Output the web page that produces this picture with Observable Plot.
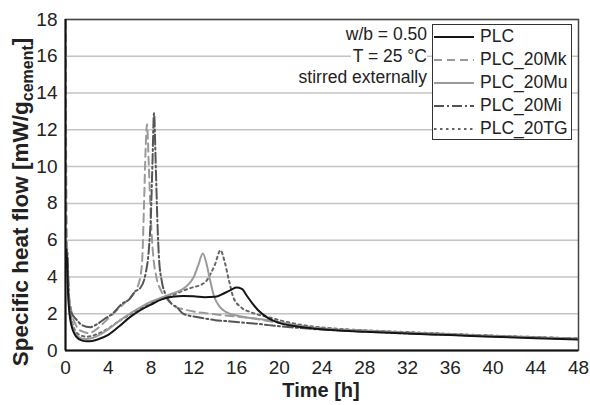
<!DOCTYPE html>
<html><head><meta charset="utf-8">
<script src="https://cdn.jsdelivr.net/npm/d3@7"></script>
<script src="https://cdn.jsdelivr.net/npm/@observablehq/plot@0.6"></script>
<style>
body{margin:0;background:#fff;font-family:"Liberation Sans",Arial,sans-serif;}
#wrap{position:relative;width:590px;height:405px;overflow:hidden;}
#notes{position:absolute;right:163px;top:24px;text-align:right;font-size:17.5px;line-height:21.5px;color:#222;}
#notes span{background:#fff;padding-left:2px;}
#legend{position:absolute;left:432px;top:24px;width:138px;height:114px;border:1px solid #333;background:#fff;font-size:17.5px;color:#222;}
#legend .row{height:23px;display:flex;align-items:center;}
#legend svg{margin-left:1px;margin-right:6px;flex:none;}
</style>
</head><body>
<div id="wrap"></div>
<script>
// ---- data ----
const seriesNames = ["PLC", "PLC_20Mk", "PLC_20Mu", "PLC_20Mi", "PLC_20TG"];
const notes = ["w/b = 0.50", "T = 25 °C", "stirred externally"];
const xTicks = [0,4,8,12,16,20,24,28,32,36,40,44,48];
const yTicks = [0,2,4,6,8,10,12,14,16,18];

const timePLC = [0,0.1,0.25,0.5,1,1.5,2,2.5,3,4,5,6,7,8,9,10,11,12,13,14,14.8,15.5,16,16.5,17,17.5,18,19,20,22,24,28,32,36,40,44,48];
const flowPLC = [4.5,5.5,3.0,1.5,0.75,0.55,0.5,0.52,0.6,0.85,1.3,1.8,2.2,2.5,2.78,2.92,2.96,2.95,2.9,2.92,3.1,3.3,3.42,3.35,2.95,2.55,2.2,1.75,1.5,1.28,1.15,1.02,0.92,0.84,0.75,0.67,0.6];

const timeMk = [0,0.05,0.15,0.3,0.5,1,1.5,2.2,3,4,5,6,6.5,7,7.2,7.35,7.5,7.62,7.8,8.0,8.2,8.5,8.9,9.5,10.4,11,12,13,14,15,16,17,18,19,20,22,24,28,32,36,40,44,48];
const flowMk = [25,12,5.5,3.2,2.3,1.35,1.05,0.95,1.2,1.75,2.3,2.85,3.2,4.0,5.2,8.0,11.0,12.3,10.0,7.0,5.2,4.0,3.3,2.8,2.35,2.25,2.12,2.04,1.97,1.9,1.84,1.78,1.7,1.6,1.5,1.34,1.22,1.08,0.98,0.89,0.8,0.72,0.65];

const timeMu = [0,0.1,0.25,0.5,1,1.5,2,2.5,3,4,5,6,7,8,9,10,11,11.5,12,12.4,12.85,13.2,13.5,13.9,14.4,15,16,17,18,20,22,24,28,32,36,40,44,48];
const flowMu = [5,5.6,3.2,1.7,0.85,0.65,0.62,0.68,0.8,1.15,1.6,2.0,2.35,2.65,2.88,3.1,3.35,3.6,4.0,4.6,5.27,4.7,3.9,2.95,2.4,2.1,1.9,1.8,1.72,1.55,1.32,1.2,1.07,0.97,0.88,0.79,0.71,0.64];

const timeMi = [0,0.15,0.35,0.6,1,1.5,2.3,3,3.7,4.4,5.3,6,6.5,7,7.5,7.8,8.0,8.15,8.28,8.45,8.6,8.75,9.0,9.4,10,10.4,11,12,13,14,15,16,17,18,19,20,22,24,28,32,36,40,44,48];
const flowMi = [5,5.5,2.7,2.0,1.7,1.4,1.27,1.45,1.74,2.0,2.55,2.8,3.2,3.4,4.2,5.5,7.5,10.5,12.9,10.0,7.0,5.0,3.8,3.0,2.5,2.36,2.0,1.85,1.75,1.65,1.6,1.55,1.5,1.45,1.38,1.32,1.22,1.14,1.03,0.93,0.85,0.77,0.7,0.63];

const timeTG = [0,0.1,0.25,0.5,1,1.5,2,2.5,3,4,5,6,7,8,9,10,11,12,12.6,13.2,13.6,14,14.5,14.9,15.3,15.7,16.4,17.3,18,19.2,20,22,24,28,32,36,40,44,48];
const flowTG = [4.5,5.3,3.3,1.9,1.0,0.8,0.75,0.8,0.9,1.2,1.6,1.95,2.3,2.6,2.8,3.0,3.25,3.45,3.55,3.8,4.2,4.7,5.45,4.8,3.8,2.9,2.36,2.09,1.95,1.78,1.65,1.4,1.25,1.1,1.0,0.9,0.81,0.73,0.66];

const seriesTimes = [timePLC, timeMk, timeMu, timeMi, timeTG];
const seriesFlows = [flowPLC, flowMk, flowMu, flowMi, flowTG];

// styles (not data)
const styles = {
  "PLC":      {stroke:"#151515", dash:null,        width:2},
  "PLC_20Mk": {stroke:"#9a9a9a", dash:"8,5",       width:2},
  "PLC_20Mu": {stroke:"#9a9a9a", dash:null,        width:2},
  "PLC_20Mi": {stroke:"#555555", dash:"10,3,2,3",  width:2},
  "PLC_20TG": {stroke:"#666666", dash:"2.5,3.5",   width:2}
};

const rows = [];
seriesNames.forEach((s,i)=>seriesTimes[i].forEach((t,j)=>rows.push({s, t, v: seriesFlows[i][j]})));

const drawOrder = ["PLC_20Mk","PLC_20Mi","PLC_20TG","PLC_20Mu","PLC"];

const plot = Plot.plot({
  width: 590, height: 405,
  marginTop: 19, marginRight: 12, marginBottom: 55, marginLeft: 65,
  style: {fontSize: "19px", fontFamily: "'Liberation Sans', Arial, sans-serif", color: "#222", background: "#fff"},
  x: {domain: [0,48]},
  y: {domain: [0,18]},
  marks: [
    Plot.gridY(yTicks.filter(d=>d>0), {stroke:"#c4c4c4", strokeOpacity:1, strokeWidth:1.5}),
    ...drawOrder.map(s => Plot.lineY(rows.filter(d=>d.s===s), {
      x:"t", y:"v", stroke: styles[s].stroke, strokeWidth: styles[s].width,
      strokeDasharray: styles[s].dash, curve:"monotone-x", clip:true
    })),
    Plot.frame({stroke:"#444", strokeWidth:1.5}),
    Plot.ruleX([0], {stroke:"#111", strokeWidth:2}),
    Plot.ruleY([0], {stroke:"#111", strokeWidth:2}),
    Plot.axisX({ticks: xTicks, tickSize: 0, tickPadding: 10, label: null}),
    Plot.axisY({ticks: yTicks, tickSize: 0, tickPadding: 8, label: null})
  ]
});

const wrap = document.getElementById("wrap");
wrap.appendChild(plot);

// axis titles
const svg = d3.select(plot);
svg.append("text")
  .attr("x", 321).attr("y", 397)
  .attr("text-anchor","middle")
  .style("font-weight","bold").style("font-size","20px").attr("fill","#222")
  .text("Time [h]");
const yl = svg.append("text")
  .attr("transform","translate(28,202) rotate(-90)")
  .attr("text-anchor","middle")
  .style("font-weight","bold").style("font-size","22.5px").attr("fill","#222");
yl.append("tspan").text("Specific heat flow [mW/g");
yl.append("tspan").attr("dy", 5).style("font-size","16px").text("cement");
yl.append("tspan").attr("dy", -5).text("]");

// notes
const nd = document.createElement("div");
nd.id = "notes";
notes.forEach(n => { const d = document.createElement("div"); const sp = document.createElement("span"); sp.textContent = n; d.appendChild(sp); nd.appendChild(d); });
wrap.appendChild(nd);

// legend
const lg = document.createElement("div");
lg.id = "legend";
seriesNames.forEach(s => {
  const r = document.createElement("div"); r.className = "row";
  const ns = "http://www.w3.org/2000/svg";
  const sv = document.createElementNS(ns, "svg"); sv.setAttribute("width", 40); sv.setAttribute("height", 10);
  const ln = document.createElementNS(ns, "line");
  ln.setAttribute("x1", 0); ln.setAttribute("x2", 40); ln.setAttribute("y1", 5); ln.setAttribute("y2", 5);
  ln.setAttribute("stroke", styles[s].stroke); ln.setAttribute("stroke-width", styles[s].width);
  if (styles[s].dash) ln.setAttribute("stroke-dasharray", styles[s].dash);
  sv.appendChild(ln); r.appendChild(sv);
  const tx = document.createElement("span"); tx.textContent = s; r.appendChild(tx);
  lg.appendChild(r);
});
wrap.appendChild(lg);
</script>
</body></html>
